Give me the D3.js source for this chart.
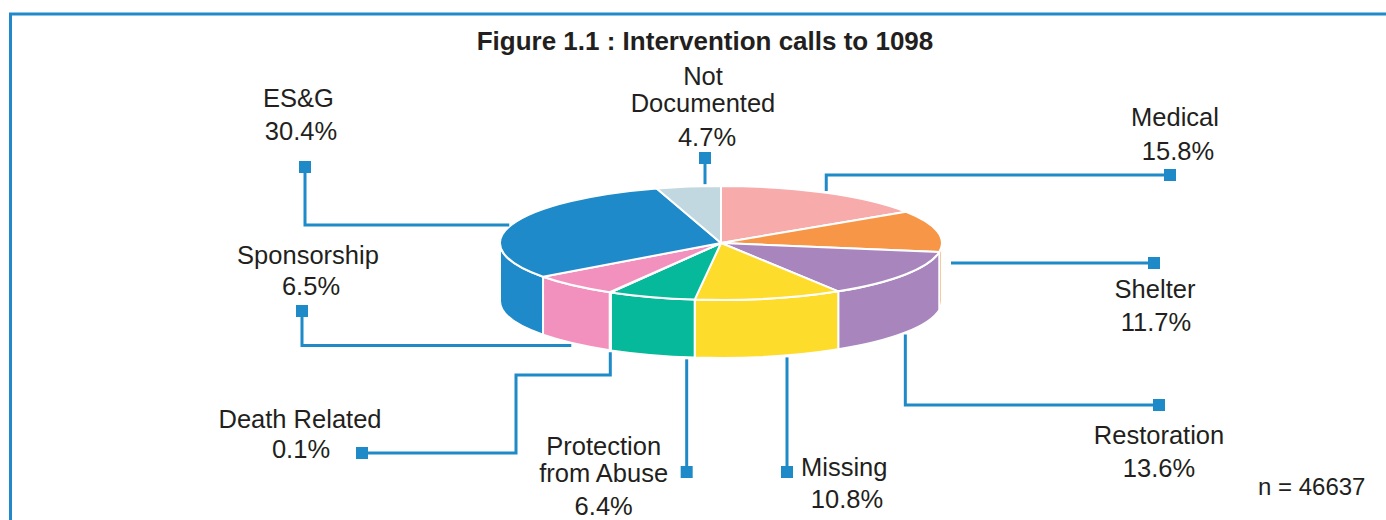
<!DOCTYPE html>
<html lang="en">
<head>
<meta charset="utf-8">
<title>Figure 1.1 : Intervention calls to 1098</title>
<style>
body { margin: 0; padding: 0; background: #fff; }
svg { display: block; font-family: 'Liberation Sans', Arial, sans-serif; }
.lbl { font-size: 25.5px; fill: #231f20; }
.title { font-size: 26px; font-weight: bold; fill: #231f20; }
.leader { fill: none; stroke: #1f8ac8; stroke-width: 3px; }
.face { stroke: #fff; stroke-width: 2px; stroke-linejoin: round; }
.frame { stroke: #2189c9; stroke-width: 3px; }
</style>
</head>
<body>
<div id="chart"></div>
<script src="https://d3js.org/d3.v7.min.js"></script>
<script>

// data, clockwise from 12 o'clock
const categories = ["Medical", "Shelter", "Restoration", "Missing", "Protection from Abuse",
  "Death Related", "Sponsorship", "ES&G", "Not Documented"];
const shares = [15.8, 11.7, 13.6, 10.8, 6.4, 0.1, 6.5, 30.4, 4.7];
const labelLines = [["Medical"], ["Shelter"], ["Restoration"], ["Missing"], ["Protection", "from Abuse"],
  ["Death Related"], ["Sponsorship"], ["ES&G"], ["Not", "Documented"]];
const sliceColors = ["#f7abab", "#f79647", "#a886bd", "#fedc2b", "#06b99b",
  "#d9534f", "#f291bd", "#1f8ac9", "#c1d8e0"];
const totalCalls = 46637;
const chartTitle = "Figure 1.1 : Intervention calls to 1098";

// label placement (square marker, leader route, text lines: x, baseline, anchor)
const labelLayout = [
  {sq: [1170, 175], route: "vh", text: [[1175, 126], [1178, 160]]},
  {sq: [1154, 263], route: "side", text: [[1155, 298], [1156, 331]]},
  {sq: [1159, 405], route: "vh", text: [[1159, 444], [1159, 477]]},
  {sq: [787, 472], route: "v", text: [[801, 476, "start"], [847, 508]]},
  {sq: [706, 472], route: "v", text: [[623, 455], [623, 482], [623, 515]]},
  {sq: [362, 453], route: "via", via: [[null, 375], [516, null], [null, 453]], text: [[300, 428], [301, 458]]},
  {sq: [302, 311], route: "hv", text: [[308, 264], [311, 295]]},
  {sq: [305, 167], route: "hv", text: [[298.5, 107], [301, 140]]},
  {sq: [705, 158], route: "v", text: [[703, 85], [703, 112], [707, 146]]}
];

const width = 1386, height = 520;
const cx = 721, cy = 243, rx = 221, ry = 57, depth = 58, gap = 2;

const svg = d3.select("#chart")
  .append("svg")
  .attr("width", width)
  .attr("height", height);

// frame
svg.append("line").attr("class", "frame")
  .attr("x1", 9).attr("x2", width).attr("y1", 14).attr("y2", 14);
svg.append("line").attr("class", "frame")
  .attr("x1", 10.5).attr("x2", 10.5).attr("y1", 13).attr("y2", height);

svg.append("text")
  .attr("class", "title")
  .attr("x", 705)
  .attr("y", 50)
  .attr("text-anchor", "middle")
  .text(chartTitle);

const arcs = d3.pie().sort(null).value(function(d) { return d; })(shares);

const px = function(a) { return cx + rx * Math.sin(a); };
const py = function(a) { return cy - ry * Math.cos(a); };
const half = function(x) { return ry * Math.sqrt(Math.max(0, 1 - Math.pow((x - cx) / rx, 2))); };

function topPath(d) {
  const large = d.endAngle - d.startAngle > Math.PI ? 1 : 0;
  return "M" + cx + "," + cy +
    "L" + px(d.startAngle) + "," + py(d.startAngle) +
    "A" + rx + "," + ry + " 0 " + large + " 1 " + px(d.endAngle) + "," + py(d.endAngle) + "Z";
}

function sidePath(a0, a1) {
  return "M" + px(a0) + "," + py(a0) +
    "A" + rx + "," + ry + " 0 0 1 " + px(a1) + "," + py(a1) +
    "L" + px(a1) + "," + (py(a1) + depth) +
    "A" + rx + "," + ry + " 0 0 0 " + px(a0) + "," + (py(a0) + depth) + "Z";
}

// side walls (front half only)
const sides = arcs.map(function(d, i) {
  return {i: i, a0: Math.max(d.startAngle, Math.PI / 2), a1: Math.min(d.endAngle, 3 * Math.PI / 2)};
}).filter(function(d) { return d.a1 > d.a0; });

svg.append("g").selectAll("path")
  .data(sides)
  .enter()
  .append("path")
  .attr("class", "face")
  .attr("d", function(d) { return sidePath(d.a0, d.a1); })
  .style("fill", function(d) { return sliceColors[d.i]; });

svg.append("g").selectAll("path")
  .data(arcs)
  .enter()
  .append("path")
  .attr("class", "face")
  .attr("d", topPath)
  .style("fill", function(_, i) { return sliceColors[i]; });

// leaders + labels
const fmt = d3.format(".1f");
const line = d3.line();

arcs.forEach(function(d, i) {
  const lay = labelLayout[i];
  const mid = (d.startAngle + d.endAngle) / 2;
  const front = Math.cos(mid) < 0;
  let sx = lay.sq[0], sy = lay.sq[1], dx = 0, pts;

  if (lay.route === "v") {
    const xa = px(d.startAngle), xb = px(d.endAngle);
    const x = Math.max(Math.min(xa, xb) + 8, Math.min(Math.max(xa, xb) - 8, sx));
    dx = x - sx;
    sx = x;
    const y0 = front ? cy + half(x) + depth + gap : cy - half(x) - gap;
    pts = [[x, y0], [x, sy]];
  } else if (lay.route === "side") {
    pts = [[cx + rx + 9, sy], [sx, sy]];
  } else if (lay.route === "hv") {
    const x0 = px(mid) + (Math.sin(mid) < 0 ? -gap : gap);
    const y0 = front ? py(mid) + depth + gap : py(mid);
    pts = [[x0, y0], [sx, y0], [sx, sy]];
  } else {
    const x0 = px(mid);
    const y0 = front ? py(mid) + depth + gap : py(mid) - gap;
    pts = [[x0, y0]];
    if (lay.route === "vh") {
      pts.push([x0, sy]);
    } else {
      lay.via.forEach(function(v) {
        const last = pts[pts.length - 1];
        pts.push([v[0] === null ? last[0] : v[0], v[1] === null ? last[1] : v[1]]);
      });
    }
    pts.push([sx, sy]);
  }

  svg.append("path")
    .attr("class", "leader")
    .attr("d", line(pts));

  svg.append("rect")
    .attr("x", sx - 6)
    .attr("y", sy - 6)
    .attr("width", 12)
    .attr("height", 12)
    .style("fill", "#1f8ac8");

  const lines = labelLines[i].concat([fmt(shares[i]) + "%"]);
  svg.selectAll(null)
    .data(lines)
    .enter()
    .append("text")
    .attr("class", "lbl")
    .attr("x", function(_, j) { return lay.text[j][0] + dx; })
    .attr("y", function(_, j) { return lay.text[j][1]; })
    .attr("text-anchor", function(_, j) { return lay.text[j][2] || "middle"; })
    .text(function(t) { return t; });
});

svg.append("text")
  .attr("class", "lbl")
  .attr("x", 1258)
  .attr("y", 495)
  .style("font-size", "24px")
  .text("n = " + totalCalls);

</script>
</body>
</html>
